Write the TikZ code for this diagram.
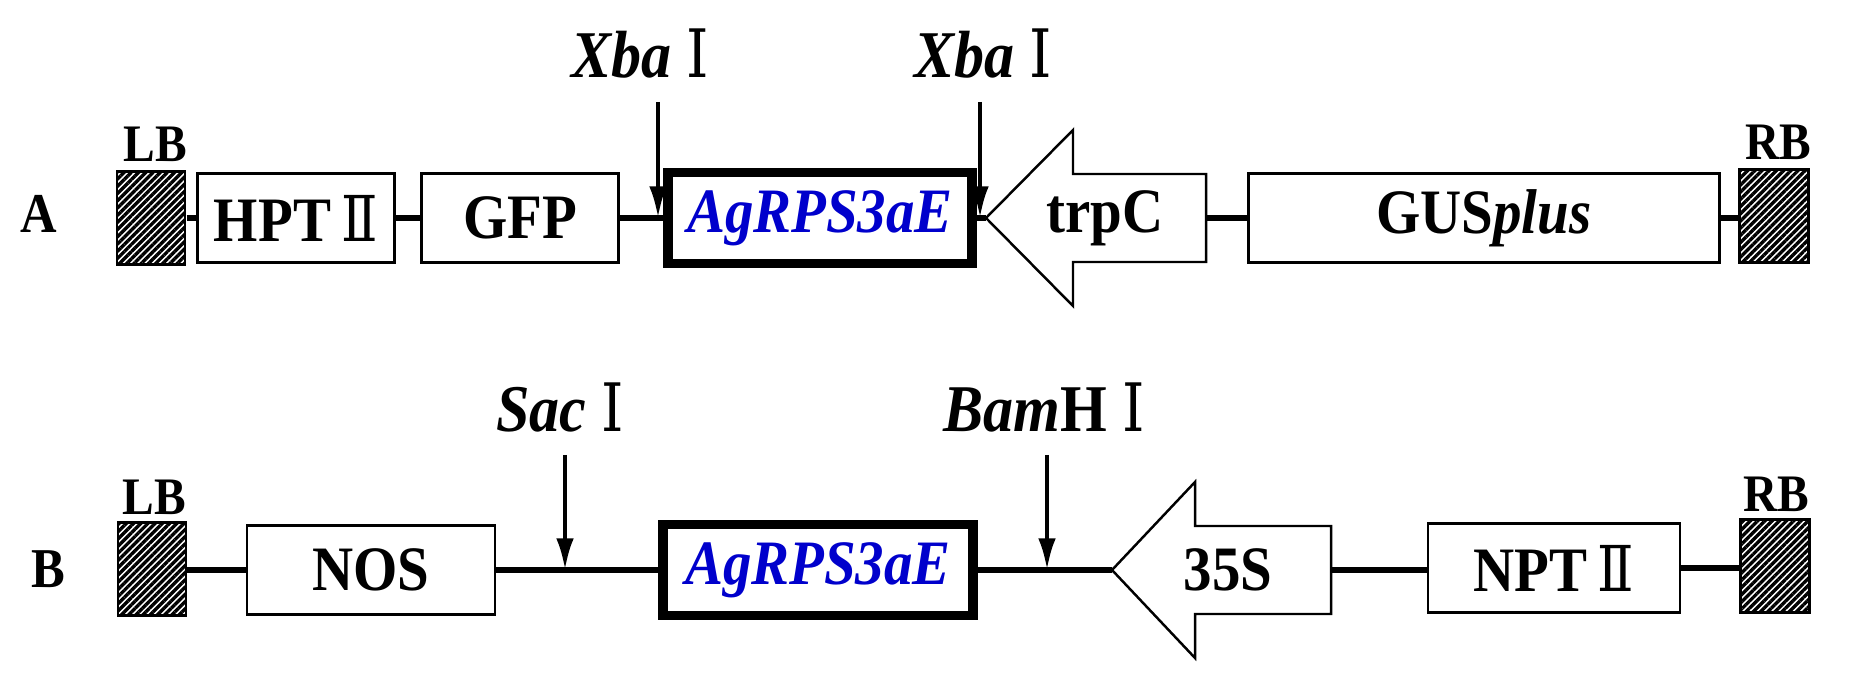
\documentclass[tikz,border=0pt]{standalone}
\usepackage{fontspec}
\setmainfont{Liberation Serif}[FakeStretch=0.9]
\newfontfamily\numfont{DejaVu Serif}[FakeStretch=0.85]
\usetikzlibrary{positioning, arrows.meta, patterns.meta}
\newcommand{\rI}{{\mdseries\upshape\numfont Ⅰ}}
\newcommand{\rII}{{\mdseries\upshape\numfont Ⅱ}}
\begin{document}
\begin{tikzpicture}[
  x=0.1mm, y=-0.1mm,
  font=\bfseries\fontsize{18}{20}\selectfont,
  gene/.style   = {draw, line width=0.8pt, fill=white, inner sep=0pt, minimum height=8.9mm},
  insert/.style = {gene, line width=2.6pt, minimum height=9.1mm, font=\bfseries\itshape\fontsize{18}{20}\selectfont, text=blue!80!black},
  border/.style = {draw, line width=0.6pt, inner sep=0pt, minimum width=6.8mm, minimum height=9.3mm,
                   pattern={Lines[angle=45, distance=1.45pt, line width=0.95pt]}},
  bdlbl/.style  = {font=\bfseries\fontsize{15}{16}\selectfont, anchor=base},
  rowlbl/.style = {font=\bfseries\fontsize{16}{18}\selectfont, anchor=base},
  enzlbl/.style = {font=\bfseries\fontsize{19}{20}\selectfont, anchor=base},
  spine/.style  = {line width=1.6pt},
  cut/.style    = {line width=1.2pt, -{Latex[length=9pt, width=5pt]}},
  prom/.style   = {draw, line width=0.7pt, fill=white},
]
\useasboundingbox (0,0) rectangle (1855,693);
% left-pointing promoter arrow: #1 name  #2 tip x  #3 head base x  #4 end x  #5 y
\newcommand{\promoter}[5]{%
  \draw[prom] (#2,#5) -- (#3,#5-88) -- (#3,#5-44) -- (#4,#5-44) -- (#4,#5+44)
              -- (#3,#5+44) -- (#3,#5+88) -- cycle;%
  \coordinate (#1-tip) at (#2,#5);%
  \coordinate (#1-end) at (#4,#5);%
}
%% ---- construct A ----
\node[rowlbl] (labA) at (39,233) {A};
\node[border] (lbA) at (151,218) {};
\node[bdlbl] (lbAl) at (155,162) {LB};
\node[gene, minimum width=19.7mm] (hpt) at (296,218) {HPT\,\rII};
\node[gene, minimum width=19.7mm] (gfp) at (520,218) {GFP};
\node[insert, minimum width=30.4mm] (agA) at (820,218) {AgRPS3aE};
\promoter{trp}{986}{1073}{1206}{218}
\node (trpC) at (1105,218) {trpC};
\node[gene, minimum width=47.1mm] (gus) at (1484,218) {GUS\textit{plus}};
\node[border, minimum width=6.9mm] (rbA) at (1774,216) {};
\node[bdlbl] (rbAl) at (1778,160) {RB};
\draw[spine] (lbA.east) -- (hpt.west) (hpt.east) -- (gfp.west) (gfp.east) -- (agA.west)
             (agA.east) -- (trp-tip) (trp-end) -- (gus.west) (gus.east) -- (rbA.west |- gus.east);
\node[enzlbl] (xbaL) at (640,78) {\textit{Xba} \rI};
\node[enzlbl] (xbaR) at (983,78) {\textit{Xba} \rI};
\coordinate (xbaLtop) at (658,102);
\coordinate (xbaRtop) at (980,102);
\draw[cut] (xbaLtop) -- (xbaLtop |- agA.west);
\draw[cut] (xbaRtop) -- (xbaRtop |- agA.east);
%% ---- construct B ----
\node[rowlbl] (labB) at (48,587) {B};
\node[border] (lbB) at (152,569) {};
\node[bdlbl] (lbBl) at (154,515) {LB};
\node[gene, minimum width=24.8mm] (nos) at (371,570) {NOS};
\node[insert, minimum width=31.0mm] (agB) at (818,570) {AgRPS3aE};
\promoter{s35}{1112}{1195}{1331}{570}
\node (p35S) at (1228,570) {35S};
\node[gene, minimum width=25.2mm] (npt) at (1554,568) {NPT\,\rII};
\node[border, minimum width=6.9mm] (rbB) at (1775,566) {};
\node[bdlbl] (rbBl) at (1776,512) {RB};
\draw[spine] (lbB.east |- nos.west) -- (nos.west) (nos.east) -- (agB.west)
             (agB.east) -- (s35-tip) (s35-end) -- (s35-end -| npt.west) (npt.east) -- (rbB.west |- npt.east);
\node[enzlbl] (sac) at (560,432) {\textit{Sac} \rI};
\node[enzlbl] (bam) at (1044,432) {\textit{Bam}H \rI};
\coordinate (sactop) at (565,455);
\coordinate (bamtop) at (1047,455);
\draw[cut] (sactop) -- (sactop |- agB.west);
\draw[cut] (bamtop) -- (bamtop |- agB.east);
\end{tikzpicture}
\end{document}
